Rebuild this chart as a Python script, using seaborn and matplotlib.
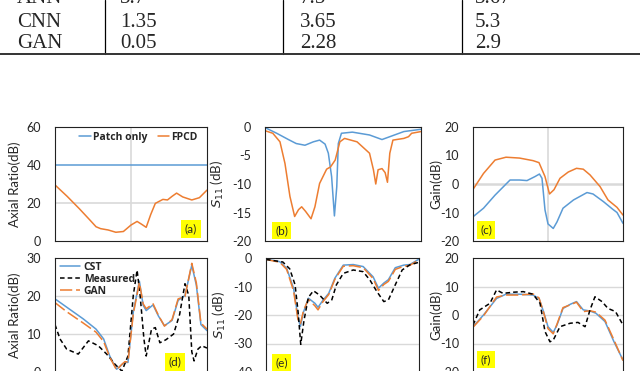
import matplotlib
matplotlib.use("Agg")
import matplotlib.pyplot as plt
import seaborn as sns
import pandas as pd

# --- tabla (solo se ven las ultimas filas) ---
table_models = ["ANN", "CNN", "GAN"]
table_col1 = ["3.7", "1.35", "0.05"]
table_col2 = ["7.5", "3.65", "2.28"]
table_col3 = ["3.67", "5.3", "2.9"]

# --- (a) Axial ratio ---
a_x_patch = [0, 1]
a_patch = [40, 40]
a_x_fpcd = [0, 0.08, 0.16, 0.23, 0.27, 0.3, 0.35, 0.4, 0.45, 0.5, 0.54, 0.57, 0.6,
            0.63, 0.66, 0.71, 0.74, 0.77, 0.8, 0.84, 0.9, 0.95, 1.0]
a_fpcd = [29.5, 23.5, 17, 11, 7.5, 6.5, 5.8, 4.6, 5.0, 8.4, 10.3, 8.8, 7.2,
          14, 19.8, 21.9, 21.6, 23.5, 25.2, 23.2, 21.6, 22.8, 26.8]

# --- (b) S11 ---
b_x_patch = [0, 0.075, 0.15, 0.2, 0.256, 0.31, 0.35, 0.385, 0.406, 0.427, 0.445, 0.46,
             0.47, 0.49, 0.56, 0.67, 0.75, 0.8, 0.89, 1.0]
b_patch = [-0.1, -1.1, -2.2, -2.9, -3.2, -2.6, -2.3, -3.0, -4.6, -8.7, -15.6, -10.5,
           -2.9, -1.1, -0.9, -1.4, -2.2, -1.7, -0.8, -0.4]
b_x_fpcd = [0, 0.05, 0.096, 0.128, 0.16, 0.19, 0.215, 0.235, 0.26, 0.295, 0.32, 0.35,
            0.395, 0.42, 0.45, 0.48, 0.51, 0.59, 0.67, 0.695, 0.71, 0.725, 0.75, 0.77,
            0.785, 0.8, 0.82, 0.89, 0.92, 0.94, 1.0]
b_fpcd = [-0.65, -1.1, -2.6, -6.4, -12.2, -15.7, -14.5, -14.0, -14.8, -16.1, -14.0, -9.9,
          -7.4, -7.0, -5.8, -2.6, -2.0, -2.6, -4.6, -7.5, -10.0, -7.5, -7.3, -8.0,
          -9.7, -4.6, -2.3, -2.0, -1.7, -1.1, -0.8]

# --- (c) Gain ---
c_x_fpcd = [0, 0.07, 0.147, 0.22, 0.31, 0.4, 0.44, 0.48, 0.51, 0.54, 0.58, 0.635,
            0.69, 0.735, 0.78, 0.847, 0.9, 0.96, 1.0]
c_fpcd = [-1.9, 3.7, 8.4, 9.4, 9.1, 8.2, 7.5, 2.6, -3.5, -2.0, 2.0, 4.2,
          5.5, 5.2, 3.2, -0.9, -5.6, -8.2, -10.9]
c_x_patch = [0, 0.07, 0.147, 0.247, 0.31, 0.36, 0.413, 0.443, 0.46, 0.48, 0.5, 0.535,
             0.56, 0.6, 0.67, 0.76, 0.8, 0.87, 0.93, 0.96, 1.0]
c_patch = [-11.5, -8.5, -3.9, 1.4, 1.4, 1.2, 2.6, 3.5, 2.0, -9.1, -14.0, -15.6,
           -13.3, -8.5, -5.6, -3.0, -3.5, -6.2, -8.8, -10.0, -13.8]

# --- (d) Axial ratio CST / Measured / GAN ---
d_x_cst = [0, 0.077, 0.186, 0.27, 0.32, 0.36, 0.405, 0.44, 0.46, 0.48, 0.515, 0.555,
           0.58, 0.6, 0.645, 0.68, 0.72, 0.77, 0.81, 0.855, 0.9, 0.93, 0.96, 1.0]
d_cst = [19.2, 17, 13.9, 11.2, 8.6, 4.1, 0.6, 1.8, 2.4, 2.4, 15.7, 23.9,
         17.5, 16.1, 17.6, 14.7, 12.1, 13.5, 18.8, 20.1, 28.1, 22.8, 12.4, 10.8]
d_gan = [18.2, 15.8, 12.8, 10.4, 7.9, 3.8, 0.4, 1.9, 2.6, 2.5, 15.2, 23.5,
         17.9, 16.6, 17.9, 14.9, 12.0, 13.7, 19.2, 19.8, 28.6, 23.4, 12.8, 11.2]
d_x_meas = [0, 0.033, 0.077, 0.153, 0.22, 0.285, 0.34, 0.395, 0.44, 0.48, 0.515, 0.54,
            0.56, 0.585, 0.6, 0.635, 0.66, 0.69, 0.73, 0.78, 0.82, 0.855, 0.88, 0.9,
            0.915, 0.94, 0.965, 1.0]
d_meas = [12.4, 8.6, 5.9, 4.6, 8.1, 6.8, 4.6, 1.9, 0.1, 4.1, 20.1, 26.8,
          20.1, 8.6, 4.1, 11.2, 11.6, 7.6, 8.4, 9.9, 15.1, 23.2, 20.1, 5.2,
          2.8, 5.9, 6.8, 6.2]

# --- (e) S11 CST / Measured / GAN ---
e_x_cst = [0, 0.09, 0.135, 0.18, 0.21, 0.225, 0.245, 0.277, 0.32, 0.34, 0.37, 0.41,
           0.45, 0.505, 0.57, 0.635, 0.7, 0.735, 0.77, 0.8, 0.845, 0.9, 0.94, 1.0]
e_cst = [-0.4, -1.3, -3.6, -10.6, -21.2, -24.0, -19.0, -14.1, -15.9, -17.3, -15.0, -12.4,
         -7.1, -2.5, -2.3, -3.0, -6.6, -10.6, -8.8, -7.6, -3.4, -2.5, -2.3, -0.4]
e_gan = [-0.5, -1.5, -4.0, -11.5, -22.0, -23.0, -18.5, -14.5, -16.8, -18.2, -15.5, -12.8,
         -7.5, -2.9, -2.7, -3.4, -7.2, -11.4, -9.3, -8.2, -4.0, -2.9, -2.6, -0.6]
e_x_meas = [0, 0.11, 0.155, 0.19, 0.21, 0.227, 0.248, 0.277, 0.31, 0.35, 0.4, 0.43,
            0.46, 0.505, 0.57, 0.635, 0.68, 0.725, 0.77, 0.8, 0.845, 0.89, 0.94, 1.0]
e_meas = [-0.5, -1.4, -3.8, -9.4, -19.0, -30.3, -22.0, -13.8, -11.5, -13.0, -15.9, -14.7,
          -9.4, -5.4, -4.2, -4.8, -7.8, -11.8, -15.3, -14.7, -9.4, -4.2, -2.4, -1.5]

# --- (f) Gain CST / Measured / GAN ---
f_x_cst = [0, 0.07, 0.157, 0.22, 0.31, 0.4, 0.44, 0.47, 0.5, 0.535, 0.56, 0.6,
           0.65, 0.69, 0.735, 0.78, 0.82, 0.88, 0.94, 1.0]
f_cst = [-4.1, 0, 5.8, 7.3, 7.3, 7.0, 5.8, 1.2, -4.1, -6.1, -3.5, 2.3,
         3.8, 4.7, 1.8, 1.4, 0.6, -2.3, -9.4, -15.8]
f_gan = [-4.3, -0.3, 6.3, 7.0, 7.0, 7.4, 6.0, 1.0, -4.8, -6.6, -3.2, 2.6,
         3.6, 4.5, 1.2, 1.5, 1.0, -1.8, -8.8, -16.0]
f_x_meas = [0, 0.045, 0.113, 0.157, 0.2, 0.27, 0.335, 0.4, 0.447, 0.48, 0.513, 0.535,
            0.58, 0.647, 0.7, 0.747, 0.78, 0.813, 0.86, 0.9, 0.95, 1.0]
f_meas = [-3.5, 1.8, 4.1, 8.8, 7.6, 8.0, 8.2, 7.3, 4.1, -5.8, -9.4, -8.8,
          -4.1, -2.9, -2.6, -4.1, 1.8, 6.4, 4.7, 2.3, 1.2, -3.5]

BLUE = "#5B9BD5"
ORANGE = "#ED7D31"
GRID = "#D9D9D9"

sns.set_style("white")
plt.rcParams["font.family"] = ["Lato", "DejaVu Sans"]
plt.rcParams["axes.unicode_minus"] = False

W, H = 640, 371
fig = plt.figure(figsize=(6.4, 3.71), dpi=100)


def make_ax(x0, x1, y0, y1):
    return fig.add_axes([x0 / W, 1 - y1 / H, (x1 - x0) / W, (y1 - y0) / H])


# tabla arriba
tab = fig.add_axes([0, 1 - 56 / H, 1, 56 / H])
tab.set_xlim(0, W)
tab.set_ylim(56, 0)
tab.axis("off")
for xs in [105, 283, 462]:
    tab.plot([xs, xs], [0, 54], color="black", lw=0.9)
tab.plot([0, W], [54, 54], color="#333333", lw=1.4)
baselines = [3, 26.7, 48.3]
for i in range(3):
    for xpos, col in zip([17, 120, 300, 475],
                         [table_models, table_col1, table_col2, table_col3]):
        tab.text(xpos, baselines[i], col[i], va="baseline", ha="left",
                 fontsize=15, family="Liberation Serif")

ax_a = make_ax(55, 207, 127, 241)
ax_b = make_ax(265, 421, 127, 241)
ax_c = make_ax(473, 623, 127, 241)
ax_d = make_ax(55, 207, 258, 371.5)
ax_e = make_ax(266, 419, 258, 372)
ax_f = make_ax(473, 623, 258, 372)

LW = 1.1


def line(ax, x, y, color, style="-", lw=LW, label=None):
    df = pd.DataFrame({"x": x, "y": y})
    sns.lineplot(data=df, x="x", y="y", ax=ax, color=color, linestyle=style,
                 linewidth=lw, label=label, errorbar=None, legend=False)


# (a)
ax_a.axhline(20, color=GRID, lw=1.2, zorder=0)
ax_a.axvline(0.5, color=GRID, lw=1.2, zorder=0)
line(ax_a, a_x_patch, a_patch, BLUE, label="Patch only")
line(ax_a, a_x_fpcd, a_fpcd, ORANGE, label="FPCD")
# (b)
line(ax_b, b_x_patch, b_patch, BLUE)
line(ax_b, b_x_fpcd, b_fpcd, ORANGE)
# (c)
ax_c.axhline(0, color=GRID, lw=1.8, zorder=0)
ax_c.axvline(0.5, color=GRID, lw=1.2, zorder=0)
line(ax_c, c_x_fpcd, c_fpcd, ORANGE)
line(ax_c, c_x_patch, c_patch, BLUE)

meas_style = (0, (3, 2))
gan_style = (0, (8, 2.5))
# (d)
for v in [10, 20]:
    ax_d.axhline(v, color=GRID, lw=1.0, zorder=0)
line(ax_d, d_x_cst, d_cst, BLUE, label="CST")
line(ax_d, d_x_meas, d_meas, "black", meas_style, label="Measured")
line(ax_d, d_x_cst, d_gan, ORANGE, gan_style, label="GAN")
# (e)
for v in [-10, -20, -30]:
    ax_e.axhline(v, color=GRID, lw=1.0, zorder=0)
line(ax_e, e_x_cst, e_cst, BLUE)
line(ax_e, e_x_cst, e_gan, ORANGE, gan_style)
line(ax_e, e_x_meas, e_meas, "black", meas_style)
# (f)
for v in [-10, 0, 10]:
    ax_f.axhline(v, color=GRID, lw=1.0, zorder=0)
line(ax_f, f_x_cst, f_cst, BLUE)
line(ax_f, f_x_cst, f_gan, ORANGE, gan_style)
line(ax_f, f_x_meas, f_meas, "black", meas_style)

settings = [
    (ax_a, (0, 60), [0, 20, 40, 60], "Axial Ratio(dB)", -0.225, "(a)", (0.895, 0.105)),
    (ax_b, (-20, 0), [-20, -15, -10, -5, 0], r"$S_{11}$ (dB)", -0.25, "(b)", (0.106, 0.092)),
    (ax_c, (-20, 20), [-20, -10, 0, 10, 20], "Gain(dB)", -0.207, "(c)", (0.087, 0.096)),
    (ax_d, (0, 30), [0, 10, 20, 30], "Axial Ratio(dB)", -0.225, "(d)", (0.79, 0.084)),
    (ax_e, (-40, 0), [-40, -30, -20, -10, 0], r"$S_{11}$ (dB)", -0.25, "(e)", (0.10, 0.084)),
    (ax_f, (-20, 20), [-20, -10, 0, 10, 20], "Gain(dB)", -0.207, "(f)", (0.087, 0.11)),
]
for ax, ylim, ticks, ylab, labx, tag, tagpos in settings:
    ax.set_xlim(0, 1)
    ax.set_ylim(*ylim)
    ax.set_yticks(ticks)
    ax.set_xticks([])
    ax.set_xlabel("")
    ax.set_ylabel(ylab, fontsize=9.5)
    ax.yaxis.set_label_coords(labx, 0.5)
    ax.tick_params(axis="y", length=0, pad=10, labelsize=9)
    for sp in ax.spines.values():
        sp.set_visible(True)
        sp.set_color("#222222")
        sp.set_linewidth(0.8)
    ax.text(tagpos[0], tagpos[1], tag, transform=ax.transAxes, ha="center",
            va="center", fontsize=8.5,
            bbox=dict(facecolor="#FFFF00", edgecolor="none", pad=2.5))

leg_font = {"family": ["Open Sans", "DejaVu Sans"], "weight": "bold", "size": 7.5}
ax_a.legend(ncol=2, loc="upper center", bbox_to_anchor=(0.55, 1.04),
            frameon=False, handlelength=1.1, handletextpad=0.2,
            columnspacing=1.0, prop=leg_font)
ax_d.legend(loc="upper left", bbox_to_anchor=(-0.03, 1.05),
            frameon=False, handlelength=1.9, handletextpad=0.4,
            labelspacing=0.1, prop=leg_font)

fig.savefig("out.png", dpi=100)
